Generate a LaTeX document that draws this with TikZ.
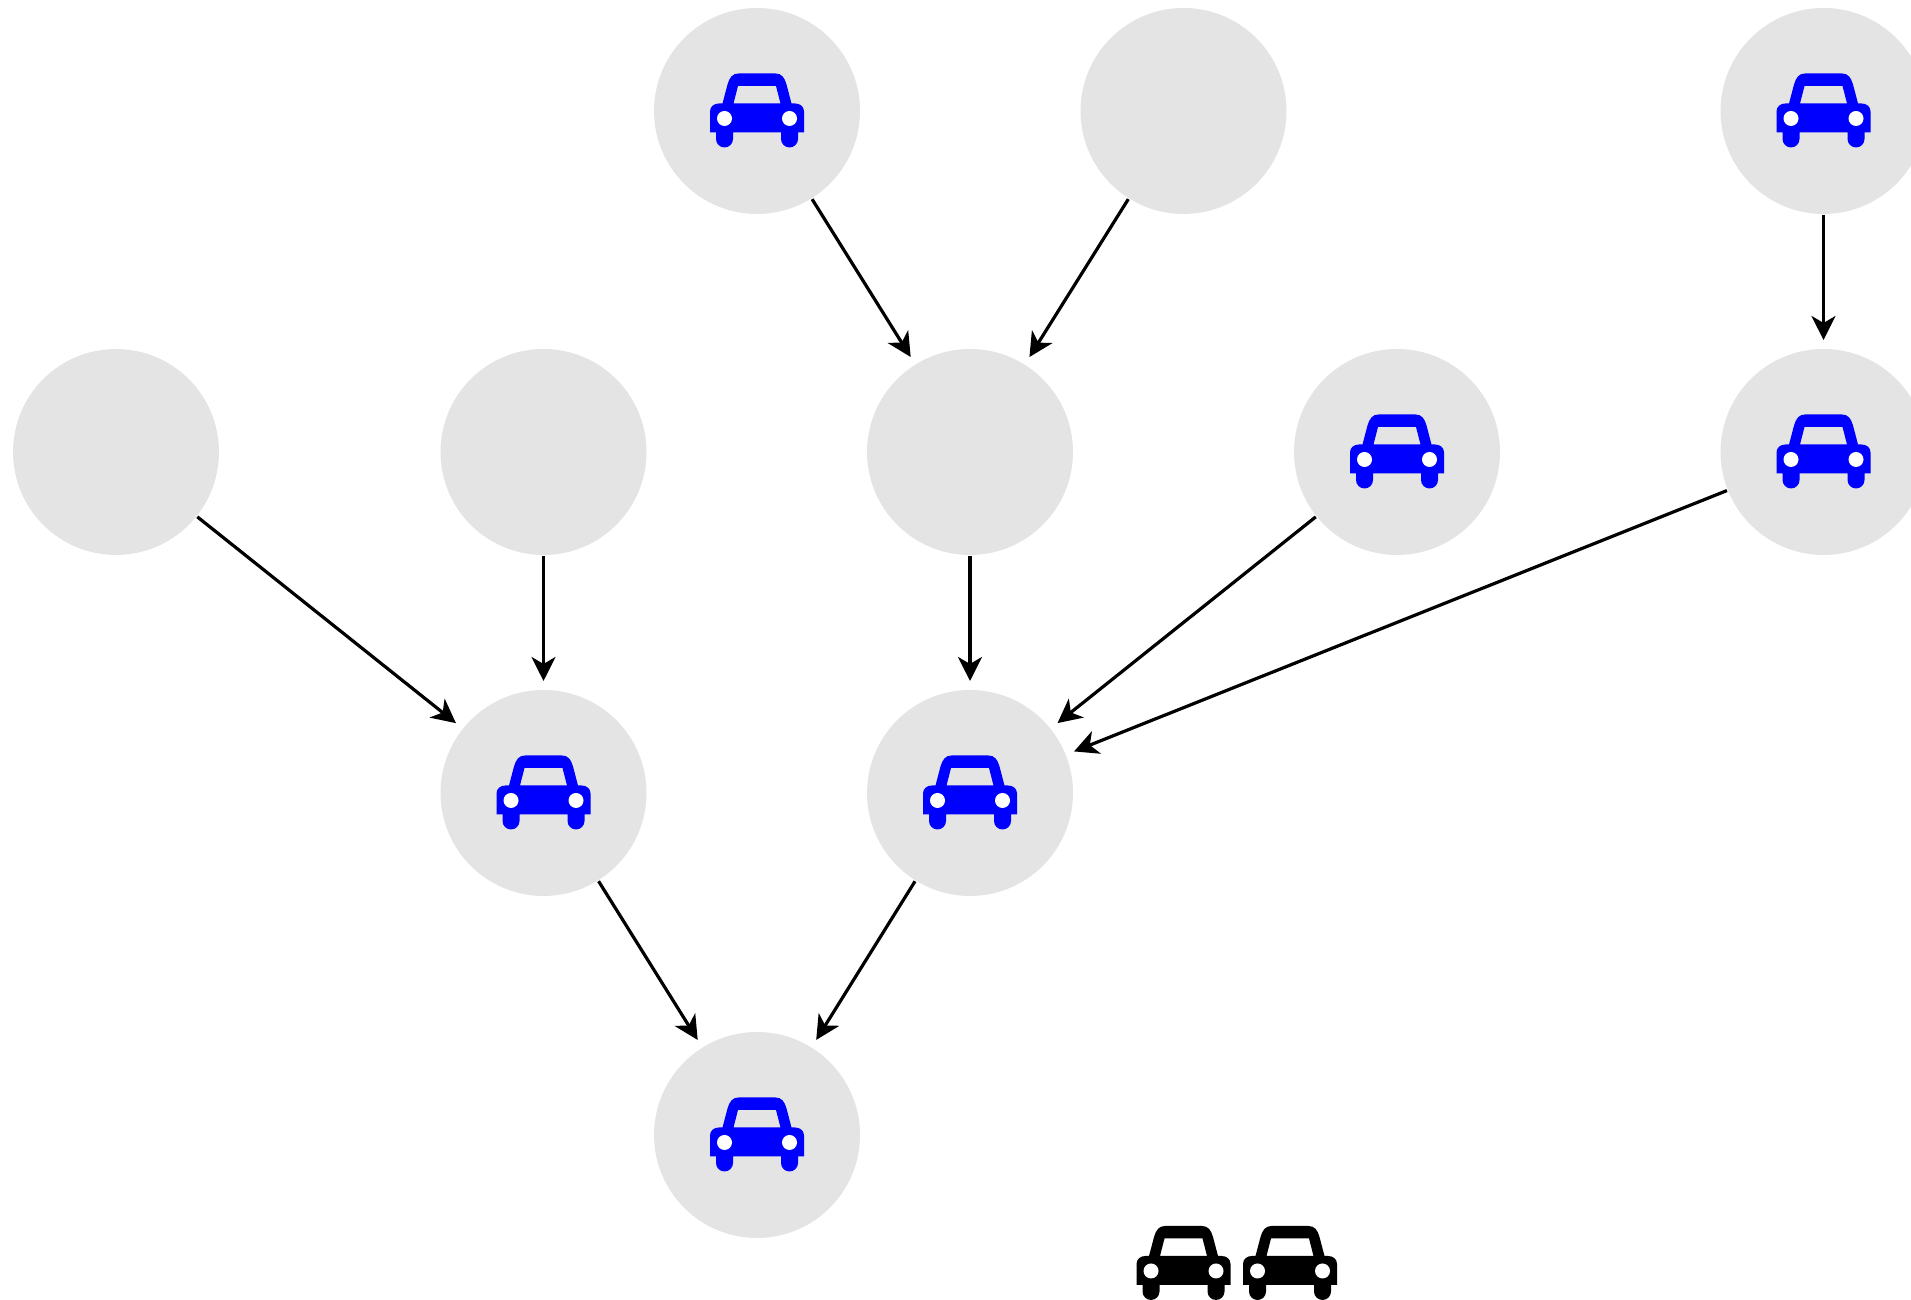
\documentclass[tikz,border=0pt]{standalone}
\usepackage{amsmath,amssymb,tikz,xcolor}
\usetikzlibrary{arrows.meta}
\definecolor{nodegray}{HTML}{E4E4E4}
\tikzset{
    vertex/.style={circle,fill=nodegray,minimum size=2.06cm,inner sep=0pt,outer sep=0pt},
    edge/.style={line width=0.032cm,-{Stealth[length=0.24cm,width=0.24cm,inset=0.07cm]},shorten >=0.09cm,shorten <=0.01cm},
    car/.pic={
        \fill[even odd rule] (-0.47,-0.215) -- (-0.47,-0.005) .. controls (-0.47,0.045) and (-0.43,0.075) .. (-0.38,0.075)
            -- (-0.345,0.075) -- (-0.295,0.265) .. controls (-0.275,0.335) and (-0.245,0.375) .. (-0.185,0.375)
            -- (0.185,0.375) .. controls (0.245,0.375) and (0.275,0.335) .. (0.295,0.265)
            -- (0.345,0.075) -- (0.38,0.075) .. controls (0.43,0.075) and (0.47,0.045) .. (0.47,-0.005)
            -- (0.47,-0.215) -- (0.41,-0.215) -- (0.41,-0.28) arc[start angle=0,end angle=-180,radius=0.085]
            -- (0.24,-0.215) -- (-0.24,-0.215) -- (-0.24,-0.28) arc[start angle=0,end angle=-180,radius=0.085]
            -- (-0.41,-0.215) -- cycle
            (-0.235,0.075) -- (-0.19,0.25) -- (0.19,0.25) -- (0.235,0.075) -- cycle;
        \fill[white] (-0.325,-0.075) circle (0.075);
        \fill[white] (0.325,-0.075) circle (0.075);
    }
}
\begin{document}
\begin{tikzpicture}
    \useasboundingbox (0,0) rectangle (19.11,13);
    \foreach \name/\x/\y in {a/7.57/11.89,b/11.835/11.89,c/18.235/11.89,d/1.16/8.48,e/5.435/8.48,f/9.70/8.48,g/13.97/8.48,h/18.235/8.48,i/5.435/5.07,j/9.70/5.07,k/7.57/1.65}{
        \node[vertex] (\name) at (\x,\y) {};
    }
    \foreach \s/\t in {a/f,b/f,c/h,d/i,e/i,f/j,g/j,h/j,i/k,j/k}{
        \draw[edge] (\s) -- (\t);
    }
    \foreach \name in {a,c,g,h,i,j,k}{
        \pic[blue] at (\name) {car};
    }
    \coordinate (p) at (11.835,0.365);
    \coordinate (q) at (12.90,0.365);
    \pic[black] at (p) {car};
    \pic[black] at (q) {car};
\end{tikzpicture}
\end{document}
